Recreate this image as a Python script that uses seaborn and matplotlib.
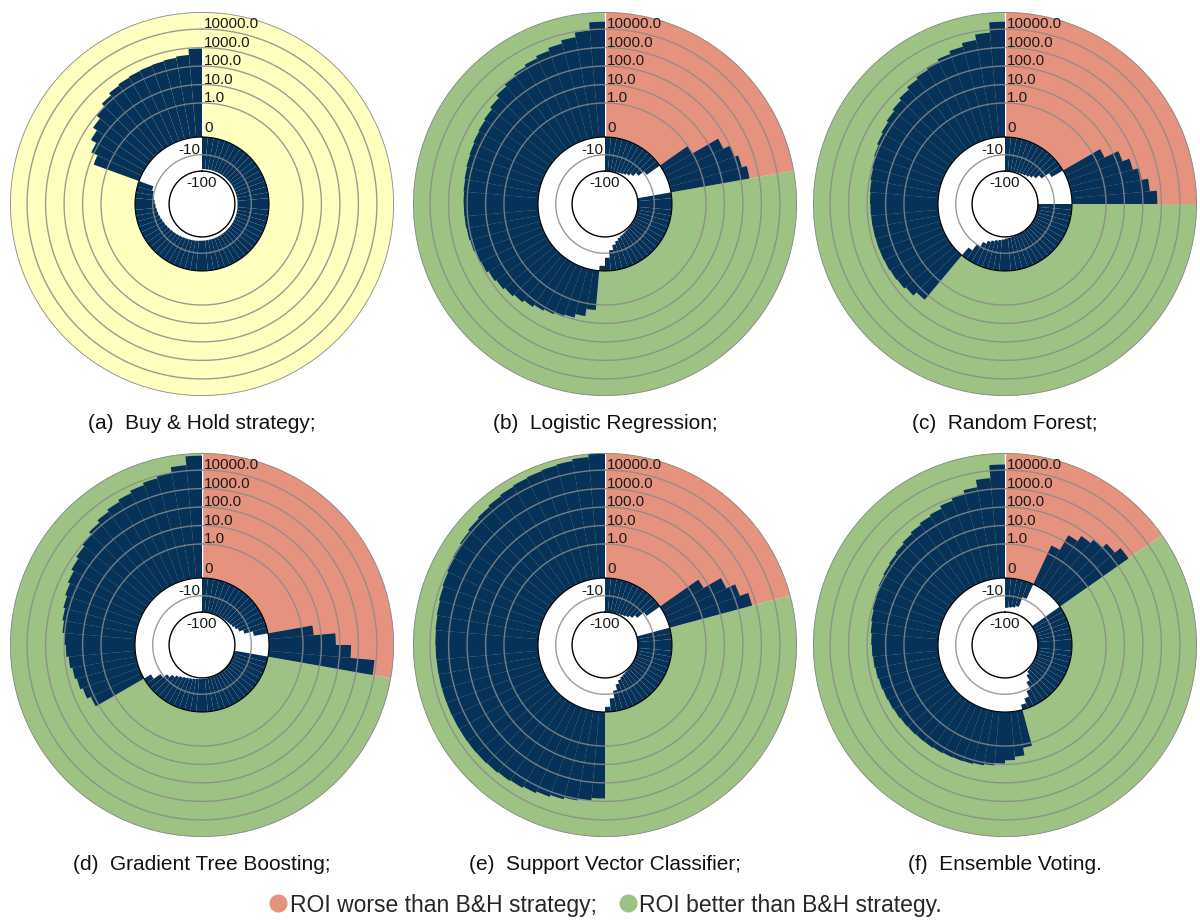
import numpy as np
import matplotlib
matplotlib.use("Agg")
import matplotlib.pyplot as plt
from matplotlib.lines import Line2D
from matplotlib.transforms import offset_copy
import seaborn as sns

# ROI (%) per bar, sorted, drawn clockwise from 12 o'clock (72 bars per panel)
bh_roi = [-76, -76, -75, -75, -75, -74, -74, -74, -73, -73, -73, -72,
          -72, -72, -71, -71, -70, -70, -70, -69, -69, -68, -68, -67,
          -67, -66, -66, -65, -65, -64, -64, -63, -62, -62, -61, -60,
          -59, -57, -55, -53, -51, -49, -46, -43, -40, -37, -34, -31,
          -28, -25, -22, -19, -17, -15, -13, -11, -9, -7,
          6, 14, 30, 55, 95, 160, 230, 270, 300, 320, 340, 370, 430, 900]

# each model: bars where ROI is worse than B&H, then bars where it is better
lr_worse = [-97, -96, -94, -91, -87, -80, -70, -56, -40, -22, -8, 1,
            40, 100, 160, 300]
lr_better = [-99, -99, -98.5, -98, -98, -97, -97, -96, -95, -93, -91, -88,
             -84, -78, -70, -60, -45, -30, -15, -5, -1,
             2, 5, 8, 11, 13, 16, 22, 30, 40, 52, 65, 85, 100, 120, 135,
             145, 150, 155, 165, 180, 200, 220, 250, 280, 330, 450, 700,
             950, 1300, 1700, 2300, 3300, 5000, 9000, 25000]

rf_worse = [-97, -96, -95, -93, -90, -85, -78, -68, -55, -38, -20, -5,
            3, 20, 50, 110, 250, 600]
rf_better = [-99, -99, -99, -99, -99, -98, -98, -98, -97, -97, -96, -96,
             -95, -94, -92, -88, -85, -80, -70, -62, -55, -45, -35, -22,
             -10, -3,
             20, 35, 45, 50, 55, 58, 60, 62, 64, 66, 70, 75, 85, 100, 120,
             150, 180, 230, 300, 420, 600, 800, 1100, 1500, 2200, 3500,
             7000, 25000]

gb_worse = [-97, -96, -96, -95, -94, -93, -91, -89, -86, -82, -76, -68,
            -55, -40, -22, -6, 4, 60, 400, 8000]
gb_better = [-99, -99, -99, -98, -98, -98, -97, -97, -96, -96, -95, -94,
             -93, -92, -90, -88, -85, -82, -78, -73, -67, -60, -50, -40,
             -28, -17, -8, -2,
             15, 25, 35, 45, 60, 80, 100, 130, 160, 200, 260, 350, 500,
             700, 1000, 1500, 2200, 3000, 4000, 5500, 7500, 10000, 20000,
             60000]

svc_worse = [-97, -96, -95, -93, -90, -85, -77, -65, -48, -28, -8,
             5, 60, 200, 600]
svc_better = [-99, -99, -99, -98, -98, -98, -97, -97, -96, -95, -94, -92,
              -89, -85, -78, -68, -52, -33, -15, -5, -1,
              700, 950, 1200, 1500, 1900, 2400, 2900, 3300, 3700, 4000,
              4200, 4300, 4400, 4500, 4600, 4700, 4800, 5000, 5200, 5500,
              6000, 6800, 7800, 9000, 11000, 13000, 16000, 19000, 23000,
              27000, 31000, 35000, 39000, 44000, 55000, 80000]

ev_worse = [-55, -50, -45, -35, -8, 3, 25, 55, 100, 200, 500]
ev_better = [-99, -99, -99, -99, -99, -98, -98, -98, -97, -97, -96, -95,
             -94, -93, -92, -90, -80, -55, -25, -8, -3, -1,
             1.5, 4, 6, 9, 12, 14, 16, 17, 18, 20, 22, 23, 25, 27, 30, 33,
             36, 40, 45, 50, 55, 60, 68, 78, 90, 105, 120, 140, 160, 190,
             240, 300, 380, 470, 700, 1000, 1600, 4000, 20000]

captions = ["(a)  Buy & Hold strategy;", "(b)  Logistic Regression;",
            "(c)  Random Forest;", "(d)  Gradient Tree Boosting;",
            "(e)  Support Vector Classifier;", "(f)  Ensemble Voting."]
pos_ticks = [1, 10, 100, 1000, 10000]
pos_tick_labels = ["1.0", "10.0", "100.0", "1000.0", "10000.0"]

NAVY = "#06325a"
YELLOW = "#ffffbf"
RED = "#e5937f"
GREEN = "#9dc284"
GRID = "#8a8a8a"

# radial scale: pixels from centre; log-like on both sides of the 0 ring
R0, DEC_POS, DEC_NEG, C_POS, R_OUT = 67.0, 18.5, 17.0, 0.0147, 192.0


def to_radius(v):
    v = np.asarray(v, dtype=float)
    with np.errstate(all="ignore"):
        pos = R0 + DEC_POS * np.log10(1 + np.abs(v) / C_POS)
        neg = R0 - DEC_NEG * np.log10(1 + np.abs(v))
    return np.where(v >= 0, pos, neg)


def from_radius(r):
    r = np.asarray(r, dtype=float)
    with np.errstate(all="ignore"):
        pos = C_POS * (10 ** ((r - R0) / DEC_POS) - 1)
        neg = -(10 ** ((R0 - r) / DEC_NEG) - 1)
    return np.where(r >= R0, pos, neg)


V_MIN = float(from_radius(0.0))
V_MAX = float(from_radius(R_OUT))

sns.set_theme(style="white")
plt.rcParams["font.family"] = ["Liberation Sans", "DejaVu Sans"]

fig = plt.figure(figsize=(12, 9.22), dpi=100)
W, H = 1200, 922
centers = [(202, 204), (605, 204), (1005, 204), (202, 645), (605, 645), (1005, 645)]
panels = [(bh_roi, None), (lr_worse, lr_better), (rf_worse, rf_better),
          (gb_worse, gb_better), (svc_worse, svc_better), (ev_worse, ev_better)]

circle = np.linspace(0, 2 * np.pi, 721)

for (cx, cy), (first, second), cap in zip(centers, panels, captions):
    ax = fig.add_axes([(cx - R_OUT) / W, 1 - (cy + R_OUT) / H,
                       2 * R_OUT / W, 2 * R_OUT / H], projection="polar")
    ax.set_theta_zero_location("N")
    ax.set_theta_direction(-1)
    ax.set_yscale("function", functions=(to_radius, from_radius))

    values = list(first) + (list(second) if second is not None else [])
    n = len(values)
    theta = (np.arange(n) + 0.5) * 2 * np.pi / n

    # background: whole disc outside the 0 ring
    if second is None:
        ax.bar(0, V_MAX, width=2 * np.pi, bottom=0, align="edge",
               color=YELLOW, linewidth=0, zorder=0)
    else:
        share = len(first) / n
        ax.bar(0, V_MAX, width=2 * np.pi * share, bottom=0, align="edge",
               color=RED, linewidth=0, zorder=0)
        ax.bar(2 * np.pi * share, V_MAX, width=2 * np.pi * (1 - share),
               bottom=0, align="edge", color=GREEN, linewidth=0, zorder=0)
    ax.plot([0, 0], [0, V_MAX], color="white", lw=1.0, zorder=1)

    sns.barplot(x=theta, y=values, native_scale=True, orient="x", ax=ax,
                color=NAVY, saturation=1, width=1.0, errorbar=None,
                linewidth=0, zorder=2)

    for v in pos_ticks + [-10]:
        ax.plot(circle, np.full_like(circle, v), color=GRID, lw=1.0,
                alpha=0.85, zorder=3)
    ax.plot(circle, np.full_like(circle, V_MAX * 0.999), color=GRID, lw=1.2, zorder=3)
    ax.plot(circle, np.full_like(circle, -100), color="black", lw=1.0, zorder=4)
    ax.plot(circle, np.zeros_like(circle), color="black", lw=0.8, zorder=4)

    ax.set_ylim(V_MIN, V_MAX)
    ax.set_axis_off()

    # tick labels along the 12 o'clock axis
    up = offset_copy(ax.transData, fig=fig, x=2, y=5, units="dots")
    for v, lab in zip(pos_ticks, pos_tick_labels):
        ax.text(0, v, lab, transform=up, ha="left", va="center",
                fontsize=11, color="#1a1a1a", zorder=5)
    ax.text(0, 0, "0", transform=offset_copy(ax.transData, fig=fig, x=2, y=9, units="dots"),
            ha="left", va="center", fontsize=11, color="#1a1a1a", zorder=5)
    ax.text(0, -10, "-10", transform=offset_copy(ax.transData, fig=fig, x=-2, y=5, units="dots"),
            ha="right", va="center", fontsize=11, color="#1a1a1a", zorder=5)
    ax.text(0, -100, "-100", transform=offset_copy(ax.transData, fig=fig, x=0, y=-12, units="dots"),
            ha="center", va="center", fontsize=11, color="#1a1a1a", zorder=5)

    fig.text(cx / W, 1 - (cy + 219) / H, cap, ha="center", va="center",
             fontsize=15, color="#111111")

handles = [Line2D([], [], ls="", marker="o", markersize=12, color=RED),
           Line2D([], [], ls="", marker="o", markersize=12, color=GREEN)]
fig.legend(handles, ["ROI worse than B&H strategy;", "ROI better than B&H strategy."],
           loc="center", bbox_to_anchor=(605 / W, 1 - 905 / H), ncol=2,
           frameon=False, fontsize=16.5, handletextpad=0.05, handlelength=0.9,
           columnspacing=0.9)

fig.savefig("out.png", dpi=100)
